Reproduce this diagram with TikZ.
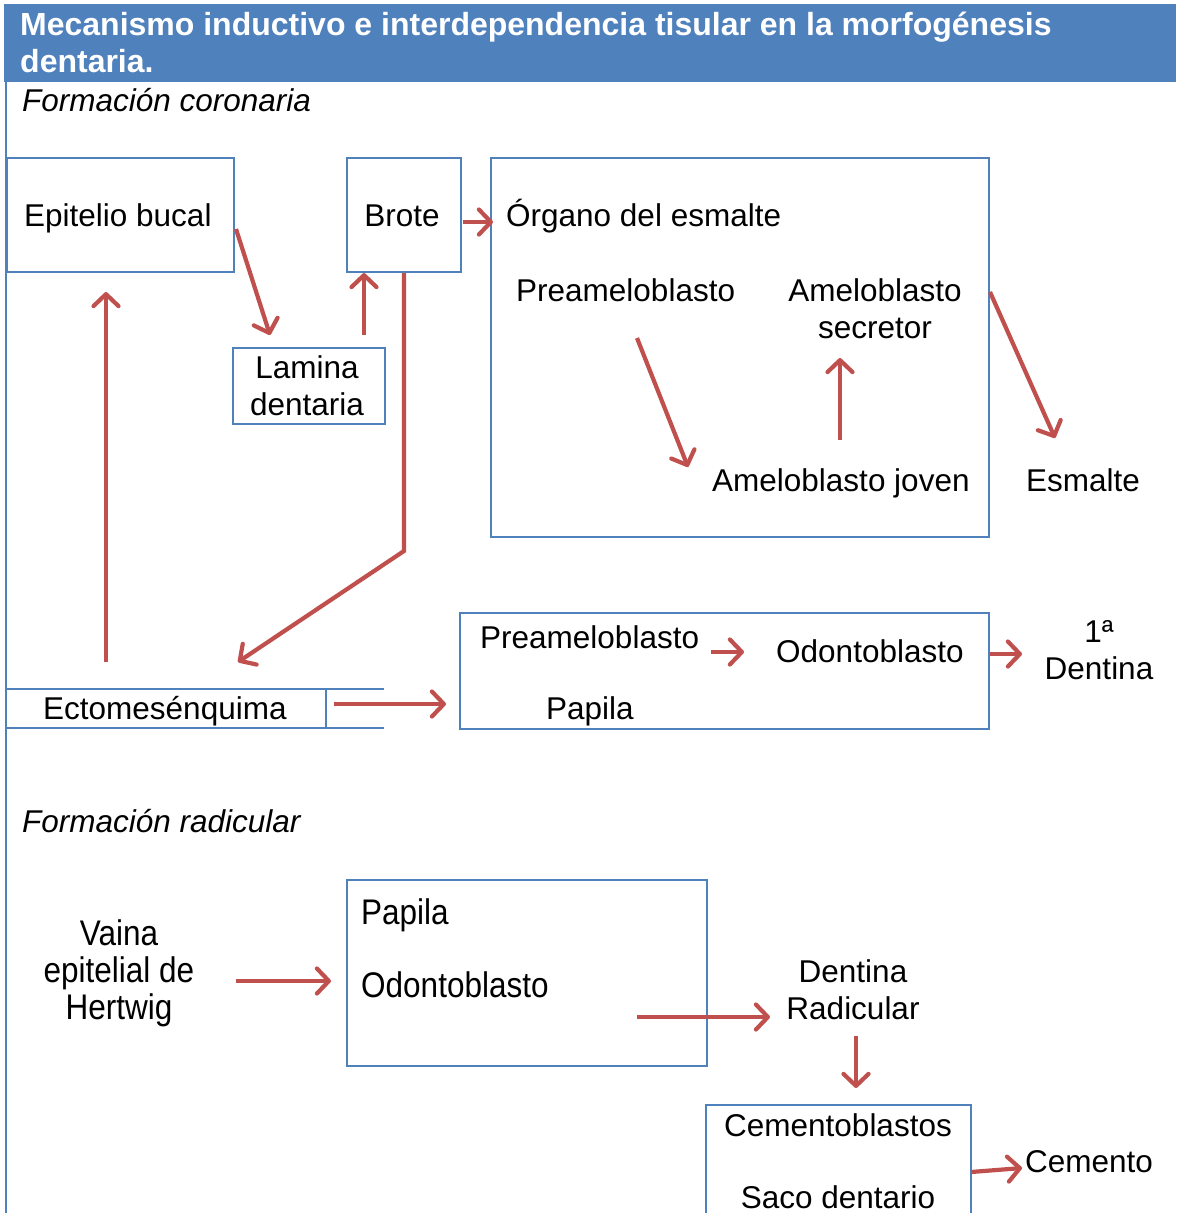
\documentclass[tikz,border=0pt]{standalone}
\usepackage{fontspec}
\setmainfont{Liberation Sans}
\usetikzlibrary{arrows.meta}
\definecolor{bl}{HTML}{4F81BD}
\definecolor{rd}{HTML}{C0504D}
\newcommand\tallt[1]{\scalebox{1}[1.13]{#1}}
\tikzset{
  frame/.style={draw=bl, line width=2.4pt, inner sep=0pt, anchor=north west},
  lbl/.style={font=\fontsize{31.5}{37}\selectfont, inner sep=0pt, text=black},
  arr/.style={draw=rd, line width=4.2pt, -{Straight Barb[length=12pt,width=25pt,round]}},
  bline/.style={draw=bl, line width=2.4pt}
}
\begin{document}
\begin{tikzpicture}[x=1pt,y=-1pt]
\useasboundingbox (0,0) rectangle (1176,1213);
\clip (0,0) rectangle (1176,1213);
% header
\fill[bl] (4,4) rectangle (1176,82);
\node[lbl, anchor=base west, align=left, text=white, font=\bfseries\fontsize{32}{37}\selectfont] (title) at (20,72)
  {Mecanismo inductivo e interdependencia tisular en la morfogénesis\\dentaria.};
\draw[bline] (6,82) coordinate (ltop) -- (6,1220) coordinate (lbot);
\node[lbl, anchor=base west, font=\itshape\fontsize{31.5}{37}\selectfont] (fcor) at (22,111) {Formación coronaria};
% boxes
\node[frame, minimum width=227pt, minimum height=114pt] (epi) at (6,157) {};
\node[frame, minimum width=114pt, minimum height=114pt] (brote) at (346,157) {};
\node[frame, minimum width=498pt, minimum height=379pt] (organo) at (490,157) {};
\node[frame, minimum width=152pt, minimum height=76pt] (lamina) at (232,347) {};
\node[frame, minimum width=529pt, minimum height=116pt] (papc) at (459,612) {};
\node[frame, minimum width=360pt, minimum height=186pt] (papr) at (346,879) {};
\node[frame, minimum width=265pt, minimum height=130pt] (cemb) at (705,1104) {};
% ectomesenquima
\draw[bline] (6,689) -- (384,689);
\draw[bline] (6,728) -- (384,728);
\draw[bline] (326,689) -- (326,728);
% texts
\node[lbl, anchor=base west] (tepi) at (24,226) {Epitelio bucal};
\node[lbl, anchor=base] (tbrote) at (402,226) {Brote};
\node[lbl, anchor=base west] (torg) at (506,226) {Órgano del esmalte};
\node[lbl, anchor=base west] (tpre) at (516,301) {Preameloblasto};
\node[lbl, anchor=base, align=center] (tsec) at (875,338) {Ameloblasto\\secretor};
\node[lbl, anchor=base west] (tjov) at (712,491) {Ameloblasto joven};
\node[lbl, anchor=base west] (tesm) at (1026,491) {Esmalte};
\node[lbl, anchor=base, align=center] (tlam) at (307,415) {Lamina\\dentaria};
\node[lbl, anchor=base west] (tecto) at (43,719) {Ectomesénquima};
\node[lbl, anchor=base west] (tpre2) at (480,648) {Preameloblasto};
\node[lbl, anchor=base west] (todo) at (776,662) {Odontoblasto};
\node[lbl, anchor=base west] (tpap) at (546,719) {Papila};
\node[lbl, anchor=base, align=center] (tdent) at (1099,679) {1ª\\Dentina};
\node[lbl, anchor=base west, font=\itshape\fontsize{31.5}{37}\selectfont] (frad) at (22,832) {Formación radicular};
\node[lbl, anchor=base, align=center] (tvai) at (119,1019) {\tallt{Vaina}\\\tallt{epitelial de}\\\tallt{Hertwig}};
\node[lbl, anchor=base west] (tpap2) at (361,924) {\tallt{Papila}};
\node[lbl, anchor=base west] (todo2) at (361,997) {\tallt{Odontoblasto}};
\node[lbl, anchor=base, align=center] (tdr) at (853,1019) {Dentina\\Radicular};
\node[lbl, anchor=base] (tcb) at (838,1136) {Cementoblastos};
\node[lbl, anchor=base] (tsaco) at (838,1208) {Saco dentario};
\node[lbl, anchor=base west] (tcem) at (1025,1172) {Cemento};
% arrow coordinates
\coordinate (a1s) at (236,229); \coordinate (a1e) at (270,335);
\coordinate (a2s) at (364,335); \coordinate (a2e) at (364,273);
\coordinate (a3s) at (404,273); \coordinate (a3m) at (404,551); \coordinate (a3e) at (238,662);
\coordinate (a4s) at (106,662); \coordinate (a4e) at (106,292);
\coordinate (a5s) at (463,222); \coordinate (a5e) at (493,222);
\coordinate (a6s) at (637,338); \coordinate (a6e) at (688,467);
\coordinate (a7s) at (840,440); \coordinate (a7e) at (840,358);
\coordinate (a8s) at (990,292); \coordinate (a8e) at (1055,438);
\coordinate (a9s) at (334,704); \coordinate (a9e) at (446,704);
\coordinate (a10s) at (711,652); \coordinate (a10e) at (744,652);
\coordinate (a11s) at (990,654); \coordinate (a11e) at (1022,654);
\coordinate (a12s) at (236,981); \coordinate (a12e) at (331,981);
\coordinate (a13s) at (637,1017); \coordinate (a13e) at (770,1017);
\coordinate (a14s) at (856,1036); \coordinate (a14e) at (856,1088);
\coordinate (a15s) at (971,1172); \coordinate (a15e) at (1022,1168);
\draw[arr] (a1s) -- (a1e);
\draw[arr] (a2s) -- (a2e);
\draw[arr] (a3s) -- (a3m) -- (a3e);
\draw[arr] (a4s) -- (a4e);
\draw[arr] (a5s) -- (a5e);
\draw[arr] (a6s) -- (a6e);
\draw[arr] (a7s) -- (a7e);
\draw[arr] (a8s) -- (a8e);
\draw[arr] (a9s) -- (a9e);
\draw[arr] (a10s) -- (a10e);
\draw[arr] (a11s) -- (a11e);
\draw[arr] (a12s) -- (a12e);
\draw[arr] (a13s) -- (a13e);
\draw[arr] (a14s) -- (a14e);
\draw[arr] (a15s) -- (a15e);
\end{tikzpicture}
\end{document}
